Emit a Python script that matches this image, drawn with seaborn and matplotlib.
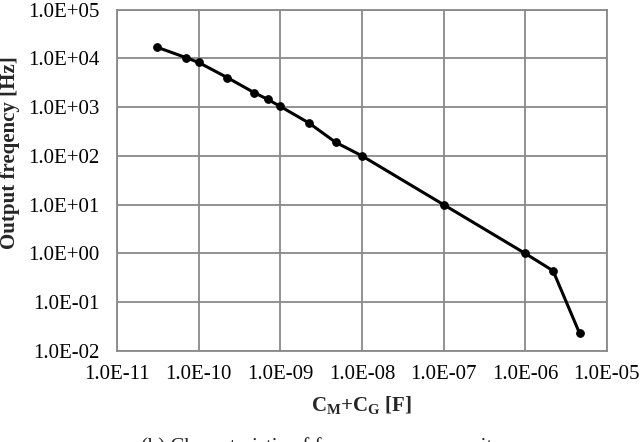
import matplotlib
matplotlib.use("Agg")
import matplotlib.pyplot as plt
import matplotlib.ticker as mticker
import numpy as np
import pandas as pd
import seaborn as sns

# Data
capacitance = [3.1e-11, 7.0e-11, 1.0e-10, 2.25e-10, 4.8e-10, 7.0e-10, 1.0e-9,
               2.25e-9, 4.75e-9, 1.0e-8, 1.0e-7, 1.0e-6, 2.2e-6, 4.65e-6]
frequency = [1.68e4, 1.03e4, 8.2e3, 4.0e3, 1.97e3, 1.44e3, 1.03e3,
             470, 190, 100, 10, 1.0, 0.44, 0.023]
x_ticks = [1e-11, 1e-10, 1e-9, 1e-8, 1e-7, 1e-6, 1e-5]
y_ticks = [1e-2, 1e-1, 1e0, 1e1, 1e2, 1e3, 1e4, 1e5]

df = pd.DataFrame({"C": capacitance, "f": frequency})

sns.set_style("white")
plt.rcParams['font.family'] = ['Liberation Serif', 'DejaVu Serif']
plt.rcParams['mathtext.fontset'] = 'custom'
plt.rcParams['mathtext.rm'] = 'Liberation Serif'
plt.rcParams['mathtext.bf'] = 'Liberation Serif:bold'

fig = plt.figure(figsize=(6.4, 4.42), dpi=100)
ax = fig.add_axes([0.183, 0.206, 0.765, 0.7725])

sns.lineplot(data=df, x="C", y="f", ax=ax, color="black", linewidth=2.2,
             marker="o", markersize=5.5, markeredgecolor="black", sort=False)

ax.set_xscale("log")
ax.set_yscale("log")
ax.set_xlim(1e-11, 1e-5)
ax.set_ylim(1e-2, 1e5)
ax.xaxis.set_major_locator(mticker.FixedLocator(x_ticks))
ax.yaxis.set_major_locator(mticker.FixedLocator(y_ticks))
ax.xaxis.set_minor_locator(mticker.NullLocator())
ax.yaxis.set_minor_locator(mticker.NullLocator())
fmt = mticker.FuncFormatter(lambda v, p: f"{v:.1E}")
ax.xaxis.set_major_formatter(fmt)
ax.yaxis.set_major_formatter(fmt)

ax.grid(True, color="#898989", linewidth=1.3)
for s in ax.spines.values():
    s.set_color("#898989")
    s.set_linewidth(1.3)
ax.tick_params(axis="both", which="major", labelsize=15, length=3,
               color="#898989", width=1.3, labelcolor="black")
ax.tick_params(axis="y", pad=10)
ax.tick_params(axis="x", pad=7)

ax.set_xlabel(r"$\mathbf{C_{M}}$+$\mathbf{C_{G}}$ [F]", fontsize=15,
              fontweight="bold", labelpad=7)
ax.set_ylabel("Output freqency [Hz]", fontsize=15, fontweight="bold")
ax.yaxis.set_label_coords(-0.198, 0.58)

fig.text(0.525, 0.012, "(b) Characteristic of frequency vs. capacitance",
         ha="center", va="top", fontsize=15)

fig.savefig("out.png", dpi=100)
